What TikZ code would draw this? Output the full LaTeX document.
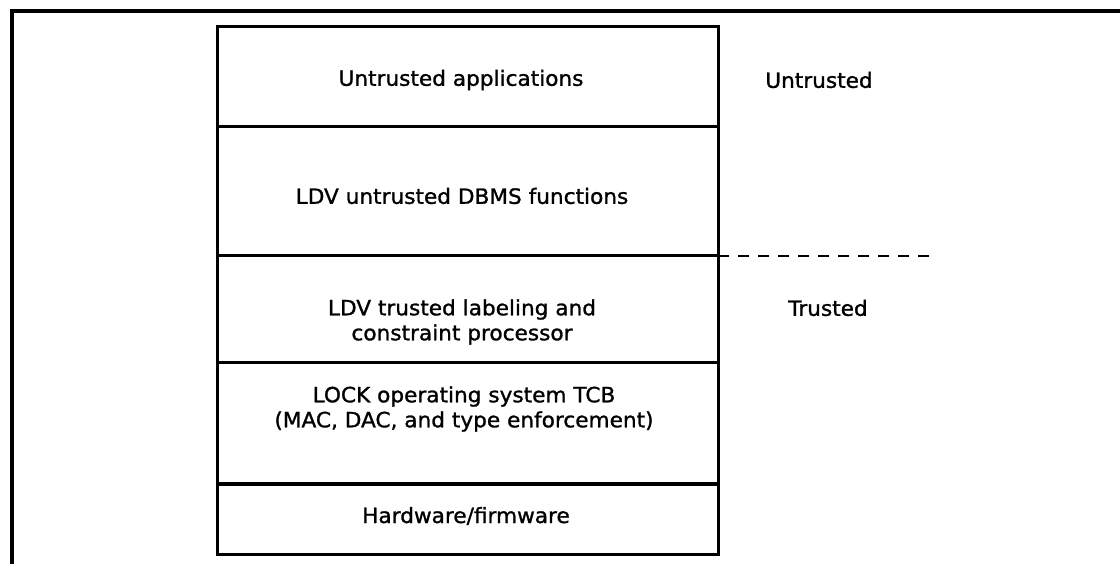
\documentclass[tikz,border=0pt]{standalone}
\usepackage{fontspec}
\setmainfont{DejaVu Sans}
\newfontfamily\lblfont[FakeBold=1.2,FakeStretch=1.03]{DejaVu Sans}
\begin{document}
\begin{tikzpicture}[x=1pt,y=-1pt,
  frame/.style={line width=3.8pt},
  boxline/.style={line width=3pt},
  lbl/.style={font=\lblfont\fontsize{21}{25}\selectfont, align=center, inner sep=0pt, text=black}]
\useasboundingbox (0,0) rectangle (1120,564);
\fill[white] (0,0) rectangle (1120,564);
% outer frame
\draw[frame] (12,564) -- (12,11) -- (1120,11);
% layer stack
\coordinate (tl) at (217,27);
\coordinate (br) at (718,554);
\draw[boxline] (tl) rectangle (br);
\coordinate (d1l) at (217,127); \coordinate (d1r) at (718,127);
\coordinate (d2l) at (217,256); \coordinate (d2r) at (718,256);
\coordinate (d3l) at (217,362); \coordinate (d3r) at (718,362);
\coordinate (d4l) at (217,484); \coordinate (d4r) at (718,484);
\coordinate (dend) at (933,256);
\draw[boxline] (d1l) -- (d1r);
\draw[boxline] (d2l) -- (d2r);
\draw[boxline] (d3l) -- (d3r);
\draw[line width=4pt] (d4l) -- (d4r);
\draw[line width=2.8pt, dash pattern=on 11pt off 9pt] (d2r) -- (dend);
% texts
\node[lbl] (t1) at (461,80) {Untrusted applications};
\node[lbl] (t2) at (462,196) {LDV untrusted DBMS functions};
\node[lbl] (t3) at (462,322) {LDV trusted labeling and\\constraint processor};
\node[lbl] (t4) at (464,409) {LOCK operating system TCB\\(MAC, DAC, and type enforcement)};
\node[lbl] (t5) at (466,516) {Hardware/firmware};
\node[lbl] (u) at (819,80) {Untrusted};
\node[lbl] (tr) at (828,308) {Trusted};
\end{tikzpicture}
\end{document}
